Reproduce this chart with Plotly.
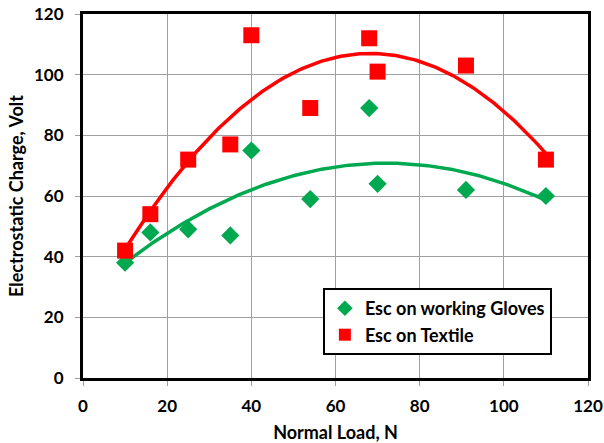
import numpy as np
import plotly.graph_objects as go

# Normal load (N) and measured electrostatic charge (V)
load_gloves = [10, 16, 25, 35, 40, 54, 68, 70, 91, 110]
esc_gloves = [38, 48, 49, 47, 75, 59, 89, 64, 62, 60]

load_textile = [10, 16, 25, 35, 40, 54, 68, 70, 91, 110]
esc_textile = [42, 54, 72, 77, 113, 89, 112, 101, 103, 72]

x_ticks = [0, 20, 40, 60, 80, 100, 120]
y_ticks = [0, 20, 40, 60, 80, 100, 120]

GREEN = "#00A84F"
RED = "#FF0000"
FONT = "Lato"


def quad_trend(x, y):
    coef = np.polyfit(x, y, 2)
    xs = np.linspace(min(x), max(x), 200)
    return xs, np.polyval(coef, xs)


fig = go.Figure()

gx, gy = quad_trend(load_gloves, esc_gloves)
tx, ty = quad_trend(load_textile, esc_textile)

fig.add_trace(go.Scatter(x=gx, y=gy, mode="lines", line=dict(color=GREEN, width=3.5),
                         showlegend=False, hoverinfo="skip"))
fig.add_trace(go.Scatter(x=tx, y=ty, mode="lines", line=dict(color=RED, width=3.5),
                         showlegend=False, hoverinfo="skip"))

fig.add_trace(go.Scatter(x=load_gloves, y=esc_gloves, mode="markers",
                         name="<b>Esc on working Gloves</b>",
                         marker=dict(symbol="diamond", size=14, color=GREEN)))
fig.add_trace(go.Scatter(x=load_textile, y=esc_textile, mode="markers",
                         name="<b>Esc on Textile</b>",
                         marker=dict(symbol="square", size=16, color=RED)))

axis_font = dict(family=FONT, size=17, color="black")
title_font = dict(family=FONT, size=18, color="black")
fig.update_layout(
    width=604, height=443,
    margin=dict(l=83, r=16, t=14, b=65),
    paper_bgcolor="white", plot_bgcolor="white",
    font=dict(family=FONT, color="black"),
    xaxis=dict(
        range=[0, 120], tickvals=x_ticks, ticktext=[f"<b>{v}</b>" for v in x_ticks],
        tickfont=axis_font, showgrid=True, gridcolor="#A0A0A0", gridwidth=1,
        showline=True, linecolor="black", linewidth=3, mirror=True,
        ticks="outside", ticklen=5, tickcolor="#A0A0A0", zeroline=False,
        ticklabelstandoff=6, automargin=False,
        title=dict(text="<b>Normal Load, N</b>", font=title_font, standoff=12),
    ),
    yaxis=dict(
        range=[0, 120], tickvals=y_ticks, ticktext=[f"<b>{v}</b>" for v in y_ticks],
        tickfont=axis_font, showgrid=True, gridcolor="#A0A0A0", gridwidth=1,
        showline=True, linecolor="black", linewidth=3, mirror=True,
        ticks="outside", ticklen=5, tickcolor="#A0A0A0", zeroline=False,
        ticklabelstandoff=8, automargin=False,
        title=dict(text="<b>Electrostatic Charge, Volt</b>", font=title_font, standoff=6),
    ),
    legend=dict(
        x=0.475, y=0.247, xanchor="left", yanchor="top",
        bgcolor="white", bordercolor="black", borderwidth=2,
        font=dict(family=FONT, size=18, color="black"),
        itemsizing="constant", itemwidth=30, tracegroupgap=0,
    ),
)

fig.write_html("out.html")
